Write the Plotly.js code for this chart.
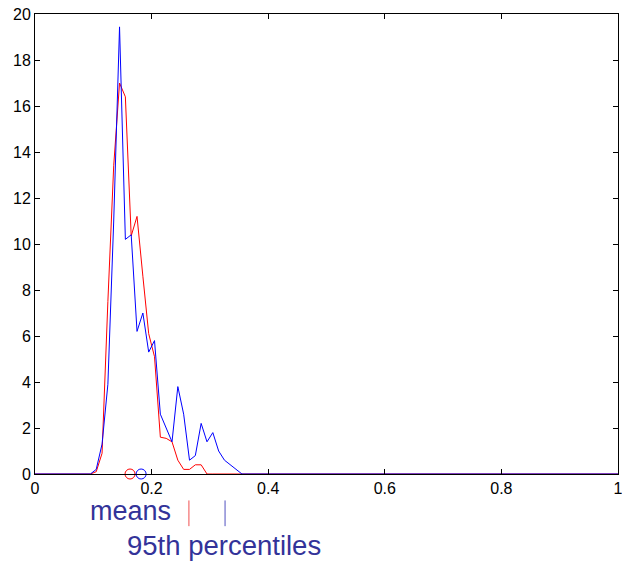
<!DOCTYPE html>
<html>
<head>
<meta charset="utf-8">
<script src="https://cdn.plot.ly/plotly-3.0.1.min.js"></script>
<style>html,body{margin:0;padding:0;background:#fff}#chart{width:622px;height:564px}</style>
</head>
<body>
<div id="chart"></div>
<script>
// data values
var xVals = [0, 0.095, 0.105, 0.115, 0.125, 0.135, 0.145, 0.155, 0.165, 0.175, 0.185, 0.195, 0.205, 0.215, 0.225, 0.235, 0.245, 0.255, 0.265, 0.275, 0.285, 0.295, 0.305, 0.315, 0.325, 0.335, 0.345, 0.355, 1];
var blueVals = [0, 0, 0.2, 1.3, 3.9, 11.0, 19.44, 10.2, 10.4, 6.2, 7.0, 5.3, 5.8, 2.6, 2.0, 1.4, 3.8, 2.6, 0.6, 0.8, 2.2, 1.4, 1.8, 1.0, 0.6, 0.4, 0.2, 0, 0];
var redVals = [0, 0, 0.1, 0.9, 7.5, 13.4, 17.0, 16.4, 10.35, 11.2, 8.6, 6.1, 5.1, 1.6, 1.55, 1.4, 0.6, 0.2, 0.2, 0.4, 0.4, 0, 0, 0, 0, 0, 0, 0, 0];
var seriesColors = ['#ff0000', '#0000ff'];
var means = [0.163, 0.182];
var p95 = [0.264, 0.326];
var labelTexts = ['means', '95th percentiles'];
var xTicks = [0, 0.2, 0.4, 0.6, 0.8, 1];
var yTicks = [0, 2, 4, 6, 8, 10, 12, 14, 16, 18, 20];

var font = 'Liberation Sans, Arial, Helvetica, sans-serif';

var traces = [
  {x: xVals, y: redVals, type: 'scatter', mode: 'lines', line: {color: seriesColors[0], width: 1}, hoverinfo: 'skip'},
  {x: xVals, y: blueVals, type: 'scatter', mode: 'lines', line: {color: seriesColors[1], width: 1}, hoverinfo: 'skip'},
  {x: means, y: [0, 0], type: 'scatter', mode: 'markers', cliponaxis: false,
   marker: {symbol: 'circle-open', size: 10, color: seriesColors, line: {width: 1, color: seriesColors}}, hoverinfo: 'skip'}
];

var shapes = p95.map(function(v, i) {
  return {type: 'line', xref: 'x', yref: 'paper', x0: v, x1: v, y0: -0.1134, y1: -0.0575,
          line: {color: i === 0 ? '#f05050' : '#5050c0', width: 1}};
});

var layout = {
  width: 622, height: 564,
  margin: {l: 35, r: 3.5, t: 14, b: 89.5},
  paper_bgcolor: '#fff', plot_bgcolor: '#fff',
  showlegend: false,
  font: {family: font, size: 16, color: '#000'},
  xaxis: {range: [0, 1], tickvals: xTicks, ticktext: xTicks.map(String), ticks: 'inside', ticklen: 5, tickcolor: '#000',
          showline: true, linecolor: '#000', linewidth: 1, mirror: 'ticks', showgrid: false, zeroline: false,
          ticklabeloverflow: 'allow', automargin: false,
          tickfont: {family: font, size: 16, color: '#000'}},
  yaxis: {range: [0, 20], tickvals: yTicks, ticks: 'inside', ticklen: 5, tickcolor: '#000',
          showline: true, linecolor: '#000', linewidth: 1, mirror: 'ticks', showgrid: false, zeroline: false,
          automargin: false,
          tickfont: {family: font, size: 16, color: '#000'}},
  shapes: shapes,
  annotations: [
    {text: labelTexts[0], xref: 'paper', yref: 'paper', x: 0.0908, y: -0.0814, xanchor: 'left', yanchor: 'middle',
     showarrow: false, font: {family: font, size: 27, color: '#333399'}},
    {text: labelTexts[1], xref: 'paper', yref: 'paper', x: 0.154, y: -0.155, xanchor: 'left', yanchor: 'middle',
     showarrow: false, font: {family: font, size: 27.5, color: '#333399'}}
  ]
};

Plotly.newPlot('chart', traces, layout, {staticPlot: true, displayModeBar: false});
</script>
</body>
</html>
